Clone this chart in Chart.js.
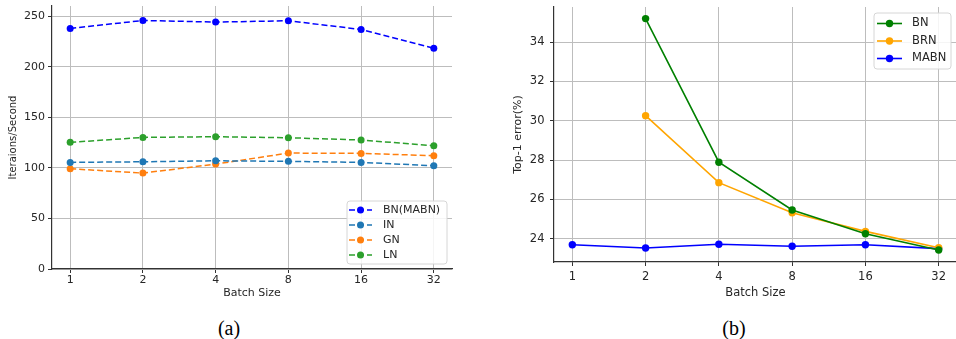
<!DOCTYPE html>
<html>
<head>
<meta charset="utf-8">
<script src="https://cdn.jsdelivr.net/npm/chart.js@4/dist/chart.umd.min.js"></script>
<style>
  html, body { margin: 0; padding: 0; background: #fff; }
  #wrap { position: relative; width: 956px; height: 339px; overflow: hidden; }
  canvas { position: absolute; top: 0; }
  #speed { left: 0; }
  #error { left: 480px; }
  .cap { position: absolute; top: 318px; width: 100px; text-align: center;
         font-family: "Liberation Serif", serif; font-size: 20px; line-height: 20px; color: #000; }
</style>
</head>
<body>
<div id="wrap">
  <canvas id="speed" width="460" height="300"></canvas>
  <canvas id="error" width="481" height="300"></canvas>
  <div class="cap" style="left:179px">(a)</div>
  <div class="cap" style="left:684px">(b)</div>
</div>
<script>
const batchSizes = [1, 2, 4, 8, 16, 32];

// (a) iterations per second
const speedTicks = [0, 50, 100, 150, 200, 250];
const bnMabnSpeed = [237.8, 245.7, 244.1, 245.4, 236.8, 218.3];
const inSpeed = [105.4, 106.0, 107.0, 106.4, 105.4, 102.1];
const gnSpeed = [99.1, 94.8, 103.7, 114.6, 114.3, 112.0];
const lnSpeed = [125.2, 130.1, 130.8, 129.8, 127.5, 121.9];

// (b) top-1 error, BN and BRN have no run at batch size 1
const errorTicks = [24, 26, 28, 30, 32, 34];
const bnError = [null, 35.2, 27.89, 25.46, 24.25, 23.42];
const brnError = [null, 30.26, 26.85, 25.32, 24.37, 23.54];
const mabnError = [23.69, 23.52, 23.71, 23.61, 23.69, 23.49];

Chart.defaults.font.family = '"DejaVu Sans", sans-serif';
Chart.defaults.color = '#262626';

const toPoints = ys => batchSizes.map((x, i) => ({ x: x, y: ys[i] })).filter(p => p.y !== null);

// legend box drawn inside the plot, matplotlib style
const boxLegend = {
    id: 'boxLegend',
    afterDraw(chart, args, o) {
        const { ctx, chartArea } = chart;
        const x0 = chartArea.right - o.inset - o.width;
        const y0 = o.at === 'bottom' ? chartArea.bottom - o.inset - o.height : chartArea.top + o.inset;
        ctx.save();
        ctx.beginPath();
        ctx.roundRect(x0, y0, o.width, o.height, 3);
        ctx.fillStyle = 'rgba(255,255,255,0.85)';
        ctx.fill();
        ctx.strokeStyle = '#d6d6d6';
        ctx.lineWidth = 1;
        ctx.stroke();
        ctx.font = o.fontSize + 'px "DejaVu Sans"';
        ctx.textBaseline = 'middle';
        chart.data.datasets.forEach((ds, i) => {
            const cy = y0 + o.firstRow + i * o.rowGap;
            const lx = x0 + o.lineStart;
            ctx.strokeStyle = ds.borderColor;
            ctx.lineWidth = ds.borderWidth;
            ctx.setLineDash(ds.borderDash || []);
            ctx.beginPath();
            ctx.moveTo(lx, cy);
            ctx.lineTo(lx + o.lineLen, cy);
            ctx.stroke();
            ctx.setLineDash([]);
            ctx.fillStyle = ds.borderColor;
            ctx.beginPath();
            ctx.arc(lx + o.lineLen / 2, cy, ds.pointRadius, 0, Math.PI * 2);
            ctx.fill();
            ctx.fillStyle = '#262626';
            ctx.fillText(ds.label, x0 + o.textStart, cy);
        });
        ctx.restore();
    }
};

function xAxis(fontSize, pad, height) {
    return {
        type: 'logarithmic',
        min: Math.pow(2, -0.25),
        max: Math.pow(2, 5.25),
        afterBuildTicks: s => { s.ticks = batchSizes.map(v => ({ value: v })); },
        afterFit: s => { s.height = height; s.paddingLeft = 0; s.paddingRight = 0; },
        ticks: { callback: v => String(v), font: { size: fontSize }, padding: pad, maxRotation: 0, autoSkip: false },
        grid: { color: '#bdbdbd', lineWidth: 1, tickLength: 4, tickColor: '#333' },
        border: { color: '#333', width: 1.2 },
        title: { display: true, text: 'Batch Size', font: { size: fontSize }, padding: { top: 0, bottom: 0 } }
    };
}

function yAxis(tickList, min, max, width, pad, fontSize, title, titleSize, titlePad) {
    return {
        type: 'linear',
        min: min,
        max: max,
        afterBuildTicks: s => { s.ticks = tickList.map(v => ({ value: v })); },
        afterFit: s => { s.width = width; s.paddingTop = 0; s.paddingBottom = 0; },
        ticks: { font: { size: fontSize }, padding: pad },
        grid: { color: '#bdbdbd', lineWidth: 1, tickLength: 4, tickColor: '#333' },
        border: { color: '#333', width: 1.2 },
        title: { display: true, text: title, font: { size: titleSize }, padding: { top: titlePad, bottom: 0 } }
    };
}

function dashed(label, color, values) {
    return {
        label: label, data: toPoints(values),
        borderColor: color, backgroundColor: color, pointBackgroundColor: color,
        borderWidth: 1.5, borderDash: [6, 3], pointRadius: 3.5, pointBorderWidth: 0, tension: 0
    };
}

function solid(label, color, values) {
    return {
        label: label, data: toPoints(values),
        borderColor: color, backgroundColor: color, pointBackgroundColor: color,
        borderWidth: 1.6, pointRadius: 3.7, pointBorderWidth: 0, tension: 0
    };
}

new Chart(document.getElementById('speed'), {
    type: 'line',
    data: {
        datasets: [
            dashed('BN(MABN)', '#0000ff', bnMabnSpeed),
            dashed('IN', '#1f77b4', inSpeed),
            dashed('GN', '#ff7f0e', gnSpeed),
            dashed('LN', '#2ca02c', lnSpeed)
        ]
    },
    options: {
        responsive: false,
        animation: false,
        layout: { padding: { top: 6, right: 8, left: 0, bottom: 0 } },
        scales: {
            x: xAxis(11, 1, 31),
            y: yAxis(speedTicks, 0, 260, 52, 3, 11, 'Iteraions/Second', 10, 7)
        },
        plugins: {
            legend: { display: false },
            tooltip: { enabled: false },
            boxLegend: { at: 'bottom', inset: 5, width: 100, height: 63, firstRow: 9, rowGap: 15,
                         lineStart: 2, lineLen: 23, textStart: 36, fontSize: 11 }
        }
    },
    plugins: [boxLegend]
});

new Chart(document.getElementById('error'), {
    type: 'line',
    data: {
        datasets: [
            solid('BN', '#008000', bnError),
            solid('BRN', '#ffa500', brnError),
            solid('MABN', '#0000ff', mabnError)
        ]
    },
    options: {
        responsive: false,
        animation: false,
        layout: { padding: { top: 7, right: 0, left: 0, bottom: 0 } },
        scales: {
            x: xAxis(11.5, 4, 38),
            y: yAxis(errorTicks, 22.81, 35.79, 74, 5.5, 11.5, 'Top-1 error(%)', 11, 31.5)
        },
        plugins: {
            legend: { display: false },
            tooltip: { enabled: false },
            boxLegend: { at: 'top', inset: 6, width: 77, height: 56, firstRow: 10.5, rowGap: 17.5,
                         lineStart: 3, lineLen: 25, textStart: 38, fontSize: 11.5 }
        }
    },
    plugins: [boxLegend]
});
</script>
</body>
</html>
